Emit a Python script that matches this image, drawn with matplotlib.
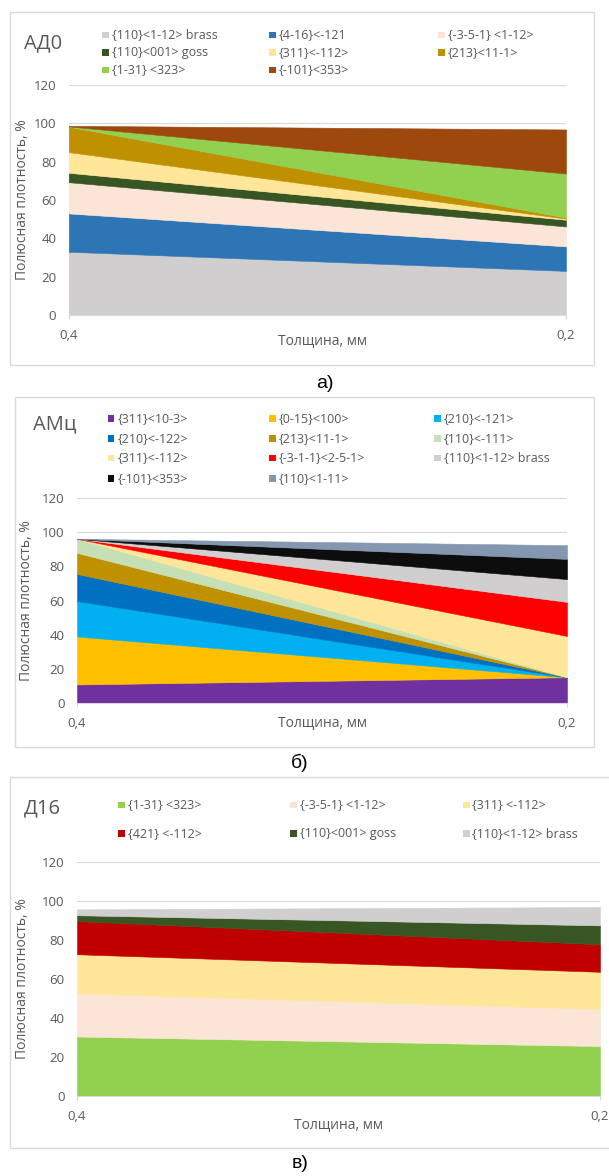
import matplotlib
matplotlib.use('Agg')
import matplotlib.pyplot as plt
from matplotlib.patches import Rectangle
import numpy as np

plt.rcParams['font.family'] = ['Open Sans', 'DejaVu Sans']

W, H = 609, 1176
GRAY_TXT = '#595959'
GRID = '#D9D9D9'

thickness = ['0,4', '0,2']
y_label = 'Полюсная плотность, %'
x_label = 'Толщина, мм'

# --- АД0 ---
ad0_names = ['{110}<1-12> brass', '{4-16}<-121', '{-3-5-1} <1-12>',
             '{110}<001> goss', '{311}<-112>', '{213}<11-1>',
             '{1-31} <323>', '{-101}<353>']
ad0_values = [[33.0, 23.0], [20.0, 12.8], [16.3, 10.4], [4.9, 3.5],
              [10.8, 0.6], [13.2, 0.5], [0.2, 23.0], [0.3, 23.0]]
ad0_colors = ['#D0CECE', '#2E75B6', '#FBE5D6', '#375623',
              '#FFE699', '#BF9000', '#92D050', '#9E480E']

# --- АМц ---
amc_names = ['{311}<10-3>', '{0-15}<100>', '{210}<-121>',
             '{210}<-122>', '{213}<11-1>', '{110}<-111>',
             '{311}<-112>', '{-3-1-1}<2-5-1>', '{110}<1-12> brass',
             '{-101}<353>', '{110}<1-11>']
amc_values = [[11.0, 15.2], [28.0, 0.0], [20.7, 0.0], [15.8, 0.0],
              [12.3, 0.0], [8.2, 0.0], [0.0, 24.1], [0.0, 19.9],
              [0.0, 13.3], [0.0, 11.8], [0.0, 8.0]]
amc_colors = ['#7030A0', '#FFC000', '#00B0F0', '#0070C0', '#BF9000',
              '#C5E0B4', '#FFE699', '#FF0000', '#D0CECE', '#0D0D0D',
              '#8497B0']

# --- Д16 ---
d16_names = ['{1-31} <323>', '{-3-5-1} <1-12>', '{311} <-112>',
             '{421} <-112>', '{110}<001> goss', '{110}<1-12> brass']
d16_values = [[30.5, 25.6], [22.2, 19.0], [20.0, 19.1],
              [17.0, 14.1], [3.0, 9.7], [3.0, 9.4]]
d16_colors = ['#92D050', '#FBE5D6', '#FFE699', '#C00000', '#375623',
              '#D0CECE']


def fx(x):
    return x / W


def fy(y):
    return 1 - y / H


fig = plt.figure(figsize=(W / 100, H / 100), dpi=100)


def draw_panel(box, plot, title, title_pos, names, values, colors,
               leg_x, leg_y, ylab_x, xlab_pos, caption, caption_pos):
    # рамка диаграммы
    bx0, by0, bx1, by1 = box
    fig.patches.append(Rectangle((fx(bx0), fy(by1)), fx(bx1 - bx0), (by1 - by0) / H,
                                 transform=fig.transFigure, fill=False,
                                 edgecolor=GRID, lw=1.0))
    left, top, right, bottom = plot
    ax = fig.add_axes([fx(left), fy(bottom), fx(right - left), (bottom - top) / H])
    x = np.arange(len(thickness))
    polys = ax.stackplot(x, *values, colors=colors, zorder=2)
    for p, c in zip(polys, colors):
        p.set_edgecolor(c)
        p.set_linewidth(0.4)
    ax.set_xlim(0, len(thickness) - 1)
    ax.set_ylim(0, 120)
    ax.set_yticks(np.arange(0, 121, 20))
    ax.set_xticks(x)
    ax.set_xticklabels(thickness)
    ax.yaxis.grid(True, color=GRID, lw=0.8, zorder=0)
    ax.set_axisbelow(True)
    for s in ['left', 'right', 'top']:
        ax.spines[s].set_visible(False)
    ax.spines['bottom'].set_color(GRID)
    ax.spines['bottom'].set_zorder(3)
    ax.tick_params(axis='y', length=0, pad=9, labelsize=9.5, labelcolor=GRAY_TXT)
    ax.tick_params(axis='x', length=3, color=GRID, pad=7, labelsize=9.5,
                   labelcolor=GRAY_TXT)

    fig.text(fx(ylab_x), fy((top + bottom) / 2), y_label, rotation=90,
             ha='center', va='center', fontsize=10, color=GRAY_TXT)
    fig.text(fx(xlab_pos[0]), fy(xlab_pos[1]), x_label, ha='center',
             va='center', fontsize=10, color=GRAY_TXT)
    fig.text(fx(title_pos[0]), fy(title_pos[1]), title, ha='left',
             va='center', fontsize=14.5, color=GRAY_TXT)

    # легенда в три колонки
    sq = 6.5
    for i, (name, c) in enumerate(zip(names, colors)):
        cx = leg_x[i % 3]
        cy = leg_y[i // 3]
        fig.patches.append(Rectangle((fx(cx), fy(cy + sq / 2)), fx(sq), sq / H,
                                     transform=fig.transFigure, facecolor=c,
                                     edgecolor='none'))
        fig.text(fx(cx + sq + 3), fy(cy), name, ha='left', va='center',
                 fontsize=9, color=GRAY_TXT)

    fig.text(fx(caption_pos[0]), fy(caption_pos[1]), caption, ha='center',
             va='center', fontsize=14, color='black',
             family=['Liberation Sans', 'DejaVu Sans'])
    return ax


draw_panel(box=(10, 12, 594, 365), plot=(68.7, 85, 566, 315),
           title='АД0', title_pos=(24, 43),
           names=ad0_names, values=ad0_values, colors=ad0_colors,
           leg_x=[102, 269, 438], leg_y=[35, 52.5, 70],
           ylab_x=23, xlab_pos=(322, 341), caption='а)', caption_pos=(325, 384))

draw_panel(box=(14.7, 397, 594, 747), plot=(77, 497.7, 567, 703.3),
           title='АМц', title_pos=(33, 424),
           names=amc_names, values=amc_values, colors=amc_colors,
           leg_x=[108, 269, 434], leg_y=[418.3, 438.3, 458, 478.3],
           ylab_x=27, xlab_pos=(323, 723), caption='б)', caption_pos=(300, 763))

draw_panel(box=(10, 777, 640, 1148), plot=(77, 862, 600, 1096),
           title='Д16', title_pos=(24, 808),
           names=d16_names, values=d16_values, colors=d16_colors,
           leg_x=[118, 290, 463], leg_y=[805, 833.3],
           ylab_x=23, xlab_pos=(339, 1125), caption='в)', caption_pos=(300, 1163))

fig.savefig('out.png', dpi=100)
